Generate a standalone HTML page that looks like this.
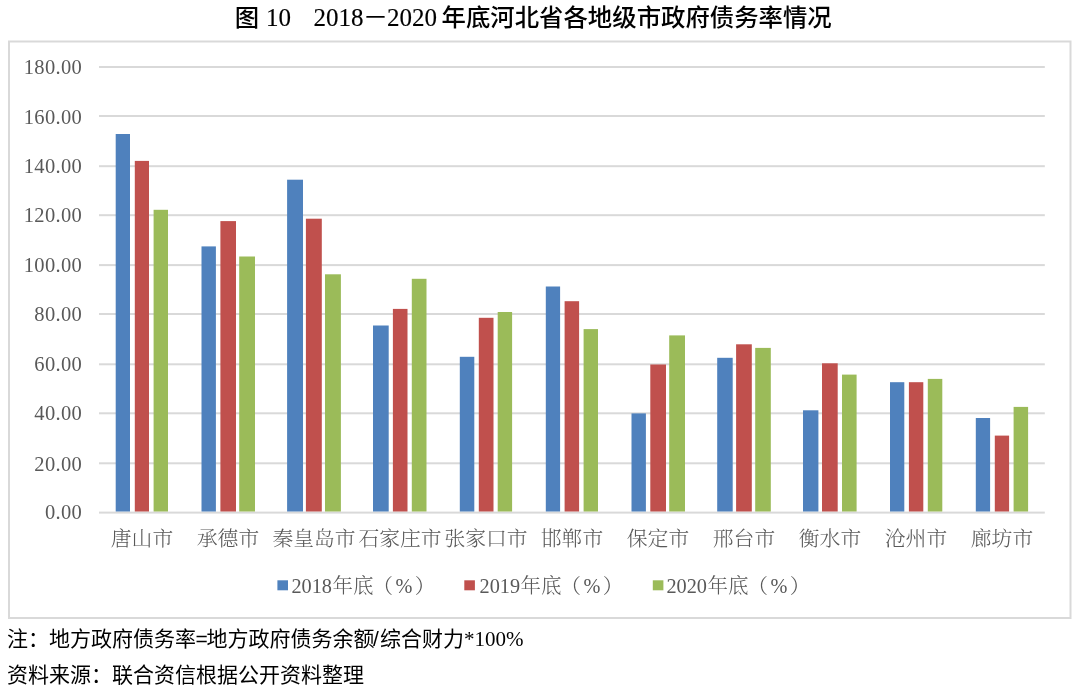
<!DOCTYPE html>
<html><head><meta charset="utf-8">
<style>
html,body{margin:0;padding:0;background:#fff;}
body{width:1080px;height:690px;position:relative;overflow:hidden;}
svg{position:absolute;left:0;top:0;filter:blur(0.35px);}
text{white-space:pre;}
.ax{font-family:"Liberation Serif",serif;font-size:20.5px;fill:#595959;letter-spacing:0.35px;}
.cat{font-family:"Liberation Serif","Noto Serif CJK SC",serif;font-size:20.8px;font-weight:300;fill:#595959;}
.lgn{font-family:"Liberation Serif",serif;font-size:20.3px;fill:#595959;}
.lgc{font-family:"Liberation Serif","Noto Serif CJK SC",serif;font-size:20.5px;font-weight:300;fill:#595959;}
.tc{font-family:"Liberation Sans","Noto Sans CJK SC",sans-serif;font-size:24.4px;font-weight:500;fill:#000;}
.tn{font-family:"Liberation Serif","Noto Sans CJK SC",serif;font-size:25px;fill:#000;stroke:#000;stroke-width:0.15px;}
.nc{font-family:"Liberation Sans","Noto Sans CJK SC",sans-serif;font-size:21px;font-weight:400;fill:#000;}
.nn{font-family:"Liberation Serif",serif;font-size:21px;fill:#000;}
</style></head><body>
<svg width="1080" height="690" viewBox="0 0 1080 690">
<rect x="9" y="41.5" width="1061.5" height="576.5" fill="none" stroke="#D9D9D9" stroke-width="2"/>
<rect x="99.0" y="511.60" width="945.8" height="2" fill="#D9D9D9"/>
<text class="ax" x="82.2" y="519.40" text-anchor="end">0.00</text>
<rect x="99.0" y="462.30" width="945.8" height="2" fill="#D9D9D9"/>
<text class="ax" x="82.2" y="470.60" text-anchor="end">20.00</text>
<rect x="99.0" y="412.30" width="945.8" height="2" fill="#D9D9D9"/>
<text class="ax" x="82.2" y="419.80" text-anchor="end">40.00</text>
<rect x="99.0" y="363.30" width="945.8" height="2" fill="#D9D9D9"/>
<text class="ax" x="82.2" y="370.80" text-anchor="end">60.00</text>
<rect x="99.0" y="313.00" width="945.8" height="2" fill="#D9D9D9"/>
<text class="ax" x="82.2" y="321.30" text-anchor="end">80.00</text>
<rect x="99.0" y="264.10" width="945.8" height="2" fill="#D9D9D9"/>
<text class="ax" x="82.2" y="272.40" text-anchor="end">100.00</text>
<rect x="99.0" y="214.20" width="945.8" height="2" fill="#D9D9D9"/>
<text class="ax" x="82.2" y="221.95" text-anchor="end">120.00</text>
<rect x="99.0" y="165.20" width="945.8" height="2" fill="#D9D9D9"/>
<text class="ax" x="82.2" y="172.70" text-anchor="end">140.00</text>
<rect x="99.0" y="115.00" width="945.8" height="2" fill="#D9D9D9"/>
<text class="ax" x="82.2" y="124.45" text-anchor="end">160.00</text>
<rect x="99.0" y="66.00" width="945.8" height="2" fill="#D9D9D9"/>
<text class="ax" x="82.2" y="74.40" text-anchor="end">180.00</text>
<rect x="115.70" y="134.00" width="14.30" height="377.50" fill="#4F81BD"/>
<rect x="134.80" y="160.90" width="14.20" height="350.60" fill="#C0504D"/>
<rect x="153.60" y="209.80" width="14.40" height="301.70" fill="#9BBB59"/>
<text class="cat" x="142.00" y="545.9" text-anchor="middle">唐山市</text>
<rect x="201.50" y="246.40" width="14.40" height="265.10" fill="#4F81BD"/>
<rect x="220.40" y="221.10" width="15.60" height="290.40" fill="#C0504D"/>
<rect x="239.20" y="256.50" width="15.80" height="255.00" fill="#9BBB59"/>
<text class="cat" x="228.00" y="545.9" text-anchor="middle">承德市</text>
<rect x="287.10" y="179.70" width="15.90" height="331.80" fill="#4F81BD"/>
<rect x="305.90" y="218.70" width="15.90" height="292.80" fill="#C0504D"/>
<rect x="325.00" y="274.30" width="15.90" height="237.20" fill="#9BBB59"/>
<text class="cat" x="314.00" y="545.9" text-anchor="middle">秦皇岛市</text>
<rect x="373.00" y="325.50" width="15.70" height="186.00" fill="#4F81BD"/>
<rect x="392.90" y="308.90" width="14.60" height="202.60" fill="#C0504D"/>
<rect x="411.80" y="278.80" width="14.70" height="232.70" fill="#9BBB59"/>
<text class="cat" x="400.00" y="545.9" text-anchor="middle">石家庄市</text>
<rect x="459.80" y="356.80" width="14.50" height="154.70" fill="#4F81BD"/>
<rect x="478.80" y="317.80" width="14.70" height="193.70" fill="#C0504D"/>
<rect x="497.70" y="312.00" width="14.40" height="199.50" fill="#9BBB59"/>
<text class="cat" x="486.00" y="545.9" text-anchor="middle">张家口市</text>
<rect x="545.80" y="286.50" width="14.30" height="225.00" fill="#4F81BD"/>
<rect x="564.60" y="301.20" width="14.50" height="210.30" fill="#C0504D"/>
<rect x="583.60" y="329.10" width="14.40" height="182.40" fill="#9BBB59"/>
<text class="cat" x="572.00" y="545.9" text-anchor="middle">邯郸市</text>
<rect x="631.50" y="413.40" width="14.40" height="98.10" fill="#4F81BD"/>
<rect x="650.30" y="364.50" width="15.70" height="147.00" fill="#C0504D"/>
<rect x="669.20" y="335.40" width="15.80" height="176.10" fill="#9BBB59"/>
<text class="cat" x="658.00" y="545.9" text-anchor="middle">保定市</text>
<rect x="717.20" y="357.80" width="15.50" height="153.70" fill="#4F81BD"/>
<rect x="736.10" y="344.30" width="15.70" height="167.20" fill="#C0504D"/>
<rect x="755.20" y="347.90" width="15.60" height="163.60" fill="#9BBB59"/>
<text class="cat" x="744.00" y="545.9" text-anchor="middle">邢台市</text>
<rect x="803.00" y="410.30" width="15.40" height="101.20" fill="#4F81BD"/>
<rect x="822.00" y="363.30" width="15.70" height="148.20" fill="#C0504D"/>
<rect x="842.00" y="374.60" width="14.60" height="136.90" fill="#9BBB59"/>
<text class="cat" x="830.00" y="545.9" text-anchor="middle">衡水市</text>
<rect x="890.00" y="382.20" width="14.30" height="129.30" fill="#4F81BD"/>
<rect x="908.90" y="382.20" width="14.40" height="129.30" fill="#C0504D"/>
<rect x="927.80" y="378.90" width="14.50" height="132.60" fill="#9BBB59"/>
<text class="cat" x="916.00" y="545.9" text-anchor="middle">沧州市</text>
<rect x="975.80" y="418.00" width="14.30" height="93.50" fill="#4F81BD"/>
<rect x="994.80" y="435.60" width="14.30" height="75.90" fill="#C0504D"/>
<rect x="1013.60" y="406.90" width="14.50" height="104.60" fill="#9BBB59"/>
<text class="cat" x="1002.00" y="545.9" text-anchor="middle">廊坊市</text>
<rect x="277.4" y="580.3" width="10.6" height="10" fill="#4F81BD"/>
<text class="lgn" x="291.40" y="592.6">2018</text>
<text class="lgc" x="332.40" y="592.6">年底</text>
<text class="lgc" x="372.40" y="592.6">（</text>
<text class="lgn" x="395.40" y="592.6">%</text>
<text class="lgc" x="414.70" y="592.6">）</text>
<rect x="464.3" y="580.3" width="10.6" height="10" fill="#C0504D"/>
<text class="lgn" x="479.50" y="592.6">2019</text>
<text class="lgc" x="520.50" y="592.6">年底</text>
<text class="lgc" x="560.50" y="592.6">（</text>
<text class="lgn" x="583.50" y="592.6">%</text>
<text class="lgc" x="602.80" y="592.6">）</text>
<rect x="652.8" y="580.3" width="10.6" height="10" fill="#9BBB59"/>
<text class="lgn" x="666.40" y="592.6">2020</text>
<text class="lgc" x="707.40" y="592.6">年底</text>
<text class="lgc" x="747.40" y="592.6">（</text>
<text class="lgn" x="770.40" y="592.6">%</text>
<text class="lgc" x="789.70" y="592.6">）</text>
<text class="tc" x="234.8" y="26">图</text>
<text class="tn" x="265.9" y="25.8">10</text>
<text class="tn" x="313.5" y="25.8">2018</text>
<text class="tn" x="363" y="25.8">－</text>
<text class="tn" x="387" y="25.8">2020</text>
<text class="tc" x="441.5" y="26">年底河北省各地级市政府债务率情况</text>
<text class="nc" x="7" y="646">注：地方政府债务率</text>
<text class="nc" x="195.5" y="646">=</text>
<text class="nc" x="206.5" y="646">地方政府债务余额</text>
<text class="nc" x="373" y="646">/</text>
<text class="nc" x="380" y="646">综合财力</text>
<text class="nn" x="464" y="646">*100%</text>
<text class="nc" x="7" y="682">资料来源：联合资信根据公开资料整理</text>
</svg>
</body></html>
